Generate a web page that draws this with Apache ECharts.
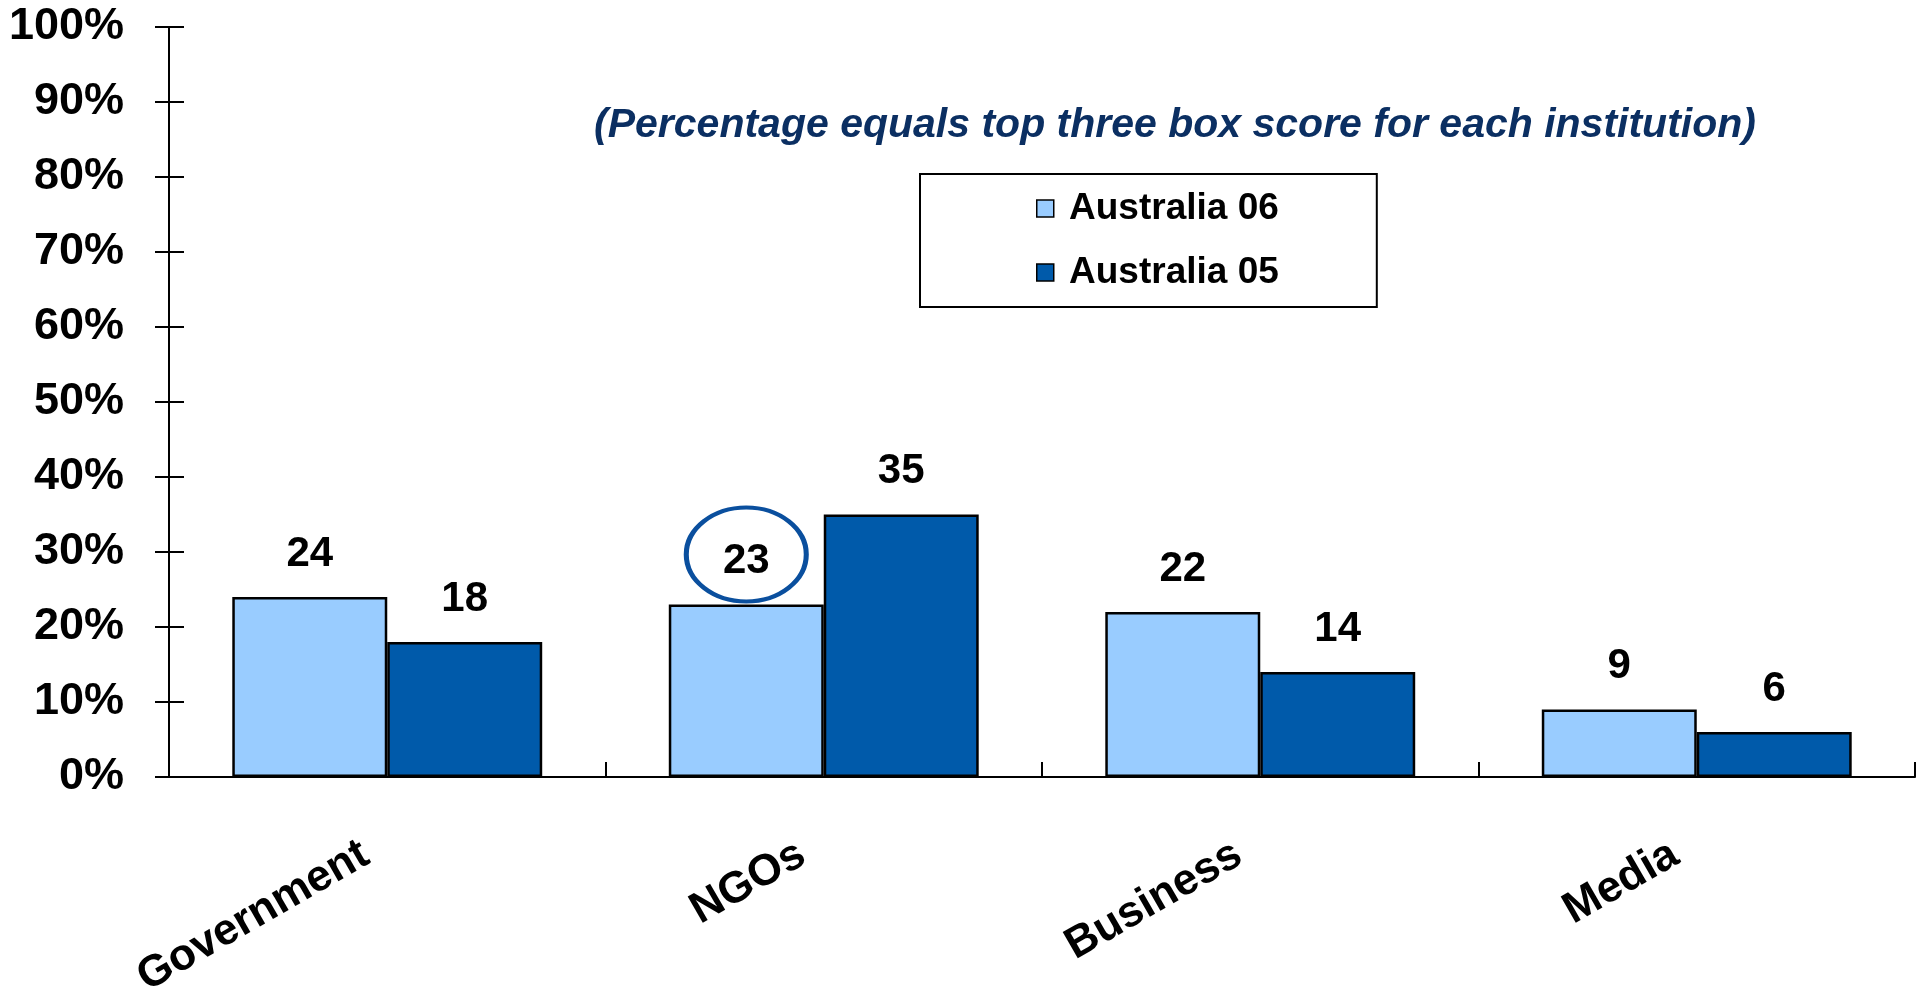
<!DOCTYPE html>
<html>
<head>
<meta charset="utf-8">
<title>Trust in institutions - Australia</title>
<script src="https://cdn.jsdelivr.net/npm/echarts@6/dist/echarts.min.js"></script>
<style>
  html, body { margin: 0; padding: 0; background: #fff; }
  #main { width: 1921px; height: 990px; }
</style>
</head>
<body>
<div id="main"></div>
<script>
var categories = ['Government', 'NGOs', 'Business', 'Media'];
var aus06 = [24, 23, 22, 9];
var aus05 = [18, 35, 14, 6];
var yTicks = [0, 10, 20, 30, 40, 50, 60, 70, 80, 90, 100];

var FONT = '"Liberation Sans", Arial, sans-serif';

var myChart = echarts.init(document.getElementById('main'));

var valueLabel = {
    show: true,
    position: 'top',
    distance: 22,
    color: '#000',
    fontSize: 42,
    fontWeight: 'bold',
    fontFamily: FONT
};

var option = {
    animation: false,
    textStyle: { fontFamily: FONT },
    title: {
        text: '(Percentage equals top three box score for each institution)',
        left: 1170,
        top: 100,
        textAlign: 'center',
        textStyle: {
            color: '#0b2f62',
            fontSize: 41,
            fontWeight: 'bold',
            fontStyle: 'italic',
            fontFamily: FONT
        }
    },
    legend: {
        data: ['Australia 06', 'Australia 05'],
        orient: 'vertical',
        left: 920,
        top: 174,
        padding: [16, 98, 16, 116],
        itemGap: 27,
        itemWidth: 17,
        itemHeight: 17,
        icon: 'rect',
        borderColor: '#000',
        borderWidth: 2,
        backgroundColor: '#fff',
        formatter: function (name) { return ' ' + name; },
        itemStyle: { borderColor: '#000', borderWidth: 1.5 },
        textStyle: {
            color: '#000',
            fontSize: 37,
            fontWeight: 'bold',
            fontFamily: FONT
        }
    },
    grid: {
        left: 169,
        right: 6,
        top: 27,
        bottom: 213,
        outerBoundsMode: 'none'
    },
    xAxis: {
        type: 'category',
        data: categories,
        axisLine: { lineStyle: { color: '#000', width: 2 } },
        axisTick: { show: true, interval: 0, inside: true, length: 15, lineStyle: { color: '#000', width: 2 } },
        axisLabel: {
            interval: 0,
            rotate: 30,
            margin: 62,
            color: '#000',
            formatter: function (v) { return '{c|' + v + '}'; },
            rich: {
                c: {
                    fontSize: 44,
                    fontWeight: 'bold',
                    fontFamily: FONT,
                    color: '#000',
                    padding: [0, 25, 0, 0]
                }
            }
        }
    },
    yAxis: [{
        type: 'value',
        min: 0,
        max: 100,
        interval: 10,
        splitLine: { show: false },
        axisLine: { show: true, lineStyle: { color: '#000', width: 2 } },
        axisTick: { show: true, length: 14, lineStyle: { color: '#000', width: 2 } },
        axisLabel: {
            margin: 45,
            color: '#000',
            fontSize: 45,
            fontWeight: 'bold',
            fontFamily: FONT,
            formatter: function (v) { return yTicks.indexOf(v) >= 0 ? v + '%' : ''; }
        }
    }, {
        // inner half of the crossing ticks
        type: 'value',
        position: 'left',
        min: 0,
        max: 100,
        interval: 10,
        splitLine: { show: false },
        axisLine: { show: true, lineStyle: { color: '#000', width: 2 } },
        axisTick: { show: true, inside: true, length: 15, lineStyle: { color: '#000', width: 2 } },
        axisLabel: { show: false }
    }],
    series: [
        {
            name: 'Australia 06',
            type: 'bar',
            data: aus06,
            barWidth: '35.5%',
            barGap: '0%',
            itemStyle: { color: '#99ccff', borderColor: '#000', borderWidth: 2.5 },
            label: valueLabel,
            markPoint: {
                symbol: 'circle',
                symbolSize: [120, 94],
                symbolOffset: [0, -50],
                itemStyle: { color: 'rgba(0,0,0,0)', borderColor: '#0a4f9e', borderWidth: 4.5 },
                label: { show: false },
                data: [{ coord: ['NGOs', 23] }]
            }
        },
        {
            name: 'Australia 05',
            type: 'bar',
            data: aus05,
            barWidth: '35.5%',
            barGap: '0%',
            itemStyle: { color: '#005aaa', borderColor: '#000', borderWidth: 2.5 },
            label: valueLabel
        }
    ]
};

myChart.setOption(option);
</script>
</body>
</html>
